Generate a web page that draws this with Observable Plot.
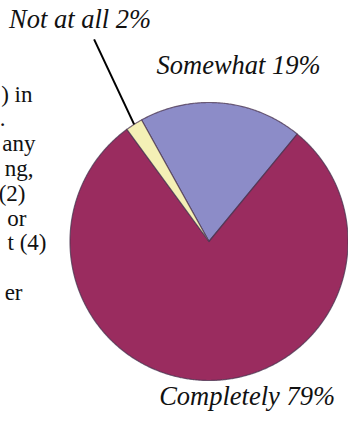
<!DOCTYPE html>
<html>
<head>
<meta charset="utf-8">
<script src="https://cdn.jsdelivr.net/npm/d3@7"></script>
<script src="https://cdn.jsdelivr.net/npm/@observablehq/plot@0.6"></script>
<style>
  html, body { margin: 0; padding: 0; background: #fff; overflow: hidden; }
  #chart svg { display: block; }
</style>
</head>
<body>
<div id="chart"></div>
<script>
// ---- data ----
const categories = ["Somewhat", "Completely", "Not at all"];
const values = [19, 79, 2];
const labels = ["Somewhat 19%", "Completely 79%", "Not at all 2%"];
const colors = ["#8c8cc8", "#9a2c5f", "#f4f0b6"];
// clipped paragraph fragments at the left edge (as visible)
const sideText = [") in", ".", "any", "ng,", "(2)", "or", "t (4)", "", "er"];

// ---- layout ----
const W = 348, H = 427;
const cx = 208.5, cy = 241, R = 139;
const sideEnds = [32, 5, 35, 33, 25, 26, 46, 0, 22];
const sideFont = 23;
const deg = Math.PI / 180;
const start = -29 * deg;

const pie = d3.pie().sort(null).value(d => d.value)
  .startAngle(start).endAngle(start + 2 * Math.PI);
const slices = pie(categories.map((c, i) => ({key: c, value: values[i], label: labels[i]})));

// wedge outlines in unit-circle coordinates (y up)
const wedge = [];
for (const s of slices) {
  wedge.push({key: s.data.key, x: 0, y: 0});
  const n = Math.max(2, Math.ceil((s.endAngle - s.startAngle) / (0.5 * deg)));
  for (let k = 0; k <= n; k++) {
    const a = s.startAngle + (s.endAngle - s.startAngle) * k / n;
    wedge.push({key: s.data.key, x: Math.sin(a), y: Math.cos(a)});
  }
}
const mid = s => (s.startAngle + s.endAngle) / 2;
const anchor = s => ({x: Math.sin(mid(s)), y: Math.cos(mid(s)), label: s.data.label});
const byKey = k => slices.find(s => s.data.key === k);

const sNot = byKey("Not at all"), sSome = byKey("Somewhat"), sComp = byKey("Completely");
const aNot = anchor(sNot);
const leader = [{x1: aNot.x, y1: aNot.y, x2: aNot.x - 40 / R, y2: aNot.y + 85 / R}];

const toX = px => (px - cx) / R;
const toY = py => (cy - py) / R;
const side = sideText
  .map((t, i) => ({t, x: toX(sideEnds[i]), y: toY(101 + 24.8 * i - 0.32 * sideFont)}))
  .filter(d => d.t);

const labelFont = {fontFamily: "'Liberation Serif', 'Times New Roman', serif", fontStyle: "italic", fontSize: 26.5, fill: "#111"};

const chart = Plot.plot({
  width: W, height: H,
  margin: 0,
  style: {background: "#fff", overflow: "hidden"},
  x: {domain: [-1, 1], range: [cx - R, cx + R], axis: null},
  y: {domain: [-1, 1], range: [cy + R, cy - R], axis: null},
  color: {domain: categories, range: colors},
  marks: [
    Plot.text(side, {x: "x", y: "y", text: "t", textAnchor: "end",
      fontFamily: "'Liberation Serif', 'Times New Roman', serif", fontSize: sideFont, fill: "#111"}),
    Plot.line(wedge, {x: "x", y: "y", z: "key", fill: "key", stroke: "#4a3450",
      strokeWidth: 1.2, strokeOpacity: 0.75, curve: "linear-closed"}),
    Plot.link(leader, {x1: "x1", y1: "y1", x2: "x2", y2: "y2", stroke: "#000", strokeWidth: 2}),
    Plot.text([aNot], {x: "x", y: "y", text: "label", dx: -54, dy: -105, ...labelFont}),
    Plot.text([anchor(sSome)], {x: "x", y: "y", text: "label", dx: 17, dy: -38, ...labelFont}),
    Plot.text([anchor(sComp)], {x: "x", y: "y", text: "label", dx: 42, dy: 16, ...labelFont})
  ]
});
document.getElementById("chart").appendChild(chart);
</script>
</body>
</html>
